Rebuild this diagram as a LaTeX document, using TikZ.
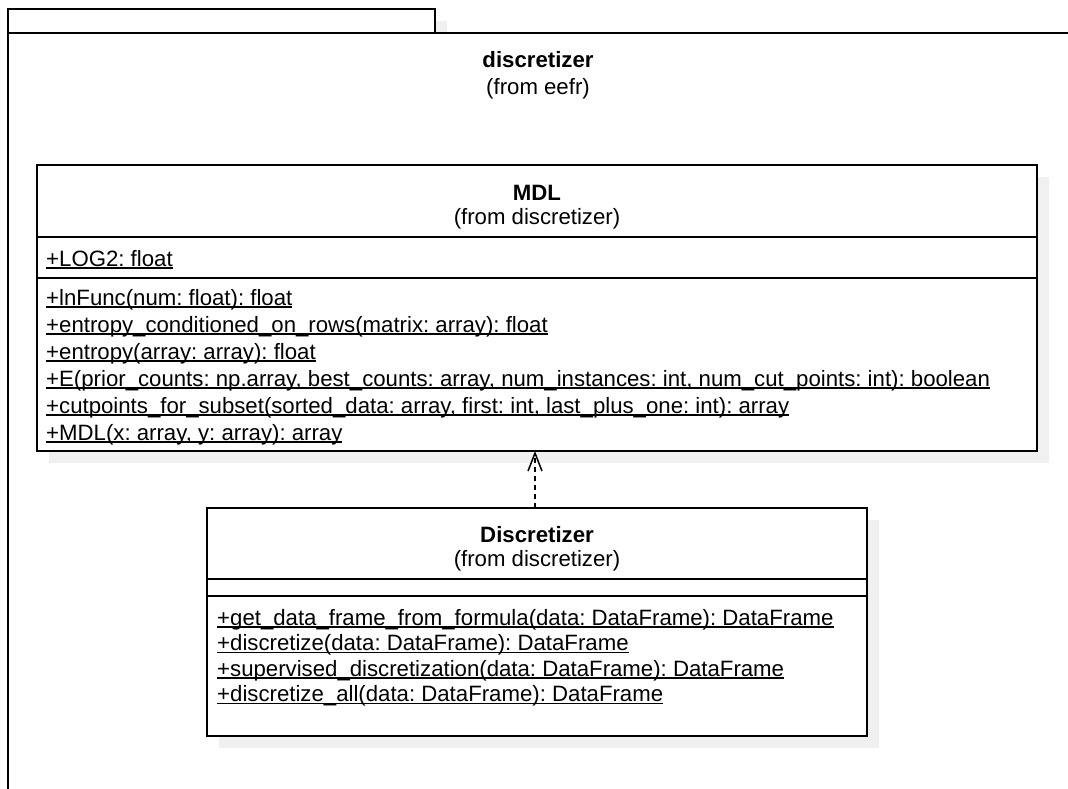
\documentclass[tikz,border=0pt]{standalone}
\usepackage{fontspec}
\setmainfont{Liberation Sans}
\usetikzlibrary{arrows.meta,calc}
\frenchspacing

% underlined member text, rule set close under the baseline
\newcommand\memberul[1]{\setbox0\hbox{#1}\rlap{\rule[-2.6pt]{\wd0}{1.3pt}}\box0}

\definecolor{shadowgray}{HTML}{F0F0F0}

\tikzset{
  frame/.style={draw=black, line width=1.7pt},
  divider/.style={draw=black, line width=1.5pt},
  classbox/.style={draw=black, line width=1.7pt, fill=white, rectangle,
    inner sep=0pt, outer sep=0pt, anchor=north west},
  shadowfill/.style={fill=shadowgray},
  title/.style={font=\fontsize{22.2}{26}\selectfont\bfseries, anchor=base, inner sep=0pt},
  subtitle/.style={font=\fontsize{22.2}{26}\selectfont, anchor=base, inner sep=0pt},
  member/.style={font=\fontsize{22.2}{26}\selectfont, anchor=base west, inner sep=0pt},
  dependency/.style={draw=black, line width=1.5pt, dash pattern=on 5pt off 4pt,
    -{Straight Barb[length=18pt,width=14pt,line width=1.5pt]}},
}

\begin{document}
\begin{tikzpicture}[x=1pt,y=-1pt]
\useasboundingbox (0,0) rectangle (1068,789);

% package frame (tab and body, running off the page)
\fill[shadowgray] (435,21) rectangle (447,33);
\draw[frame] (8,33) |- (435,9) -- (435,33);
\draw[frame] (1070,33) -- (8,33) -- (8,791);
\node[title] (pkgname) at (538,68) {discretizer};
\node[subtitle] (pkgfrom) at (538,95) {(from eefr)};

% class MDL
\fill[shadowfill] (49,177) rectangle (1049,463);
\node[classbox, minimum width=1000pt, minimum height=286pt] (mdl) at (37,165) {};
\draw[divider] (mdl.west |- 0,237) -- (mdl.east |- 0,237);
\draw[divider] (mdl.west |- 0,278) -- (mdl.east |- 0,278);
\node[title] (mdlname) at (537,200) {MDL};
\node[subtitle] (mdlfrom) at (537,224) {(from discretizer)};
\node[member] (mdla1) at (46,266) {\memberul{+LOG2: float}};
\node[member] (mdlo1) at (46,305) {\memberul{+lnFunc(num: float): float}};
\node[member] (mdlo2) at (46,332) {\memberul{+entropy\_conditioned\_on\_rows(matrix: array): float}};
\node[member] (mdlo3) at (46,359) {\memberul{+entropy(array: array): float}};
\node[member] (mdlo4) at (46,386) {\memberul{+E(prior\_counts: np.array, best\_counts: array, num\_instances: int, num\_cut\_points: int): boolean}};
\node[member] (mdlo5) at (46,413) {\memberul{+cutpoints\_for\_subset(sorted\_data: array, first: int, last\_plus\_one: int): array}};
\node[member] (mdlo6) at (46,440) {\memberul{+MDL(x: array, y: array): array}};

% class Discretizer
\fill[shadowfill] (219,520) rectangle (879,748);
\node[classbox, minimum width=660pt, minimum height=228pt] (disc) at (207,508) {};
\draw[divider] (disc.west |- 0,579) -- (disc.east |- 0,579);
\draw[divider] (disc.west |- 0,596) -- (disc.east |- 0,596);
\node[title] (discname) at (537,542) {Discretizer};
\node[subtitle] (discfrom) at (537,566) {(from discretizer)};
\node[member] (disco1) at (217,625) {\memberul{+get\_data\_frame\_from\_formula(data: DataFrame): DataFrame}};
\node[member] (disco2) at (217,650.5) {\memberul{+discretize(data: DataFrame): DataFrame}};
\node[member] (disco3) at (217,676) {\memberul{+supervised\_discretization(data: DataFrame): DataFrame}};
\node[member] (disco4) at (217,701.5) {\memberul{+discretize\_all(data: DataFrame): DataFrame}};

% dependency Discretizer -> MDL
\draw[dependency] (disc.north -| 535,0) -- (mdl.south -| 535,0);
\end{tikzpicture}
\end{document}
